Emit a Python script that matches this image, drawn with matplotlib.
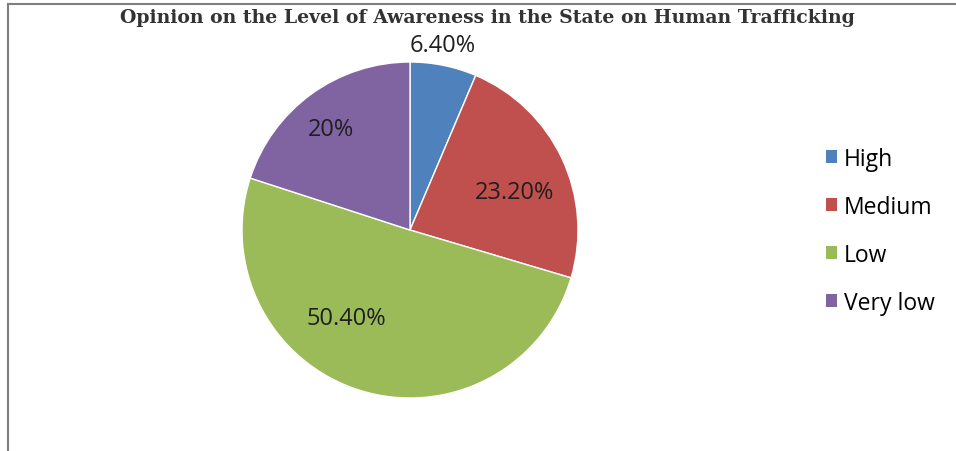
import numpy as np
import matplotlib.pyplot as plt
from matplotlib.patches import Patch
from matplotlib.lines import Line2D

# Data
categories = ['High', 'Medium', 'Low', 'Very low']
values = [6.4, 23.2, 50.4, 20.0]
value_labels = ['6.40%', '23.20%', '50.40%', '20%']
colors = ['#4F81BD', '#C0504D', '#9BBB59', '#8064A2']

# label placement (radius units, degrees) - Excel "best fit" style
label_radius = [1.12, 0.66, 0.65, 0.76]
label_angle = [80, 20, -126, 128]

W, H = 956, 452
fig = plt.figure(figsize=(W / 100, H / 100), dpi=100)
fig.patch.set_facecolor('white')

# pie axes: center (410, 231), radius 168 px
cx, cy, r = 410, 231, 168
ax = fig.add_axes([(cx - r) / W, (H - cy - r) / H, 2 * r / W, 2 * r / H])
ax.pie(values, colors=colors, startangle=90, counterclock=False, radius=1,
       wedgeprops=dict(edgecolor='white', linewidth=1))
ax.set_xlim(-1, 1)
ax.set_ylim(-1, 1)
ax.set_aspect('equal')
ax.axis('off')

for lab, rr, ang in zip(value_labels, label_radius, label_angle):
    a = np.deg2rad(ang)
    ax.text(rr * np.cos(a), rr * np.sin(a), lab, ha='center', va='center',
            fontsize=17, color='#1f1f1f', family='Open Sans')

# title
fig.text(487 / W, 1 - 18 / H,
         'Opinion on the Level of Awareness in the State on Human Trafficking',
         ha='center', va='center', fontsize=13.6, fontweight='bold',
         family='DejaVu Serif', color='#333333')

# legend
handles = [Patch(facecolor=c, edgecolor='none') for c in colors]
fig.legend(handles, categories, loc='upper left', bbox_to_anchor=(805 / W, 1 - 127 / H),
           frameon=False, handlelength=0.5, handleheight=0.5,
           handletextpad=0.3, labelspacing=1.05,
           prop={'family': 'Open Sans', 'size': 16.5})

# chart frame (left and top edges)
fig.add_artist(Line2D([8 / W, 8 / W], [0, 1 - 5 / H], color='#7f7f7f', linewidth=1.5))
fig.add_artist(Line2D([8 / W, 1], [1 - 5 / H, 1 - 5 / H], color='#7f7f7f', linewidth=1.5))

fig.savefig('out.png', dpi=100, facecolor='white')
